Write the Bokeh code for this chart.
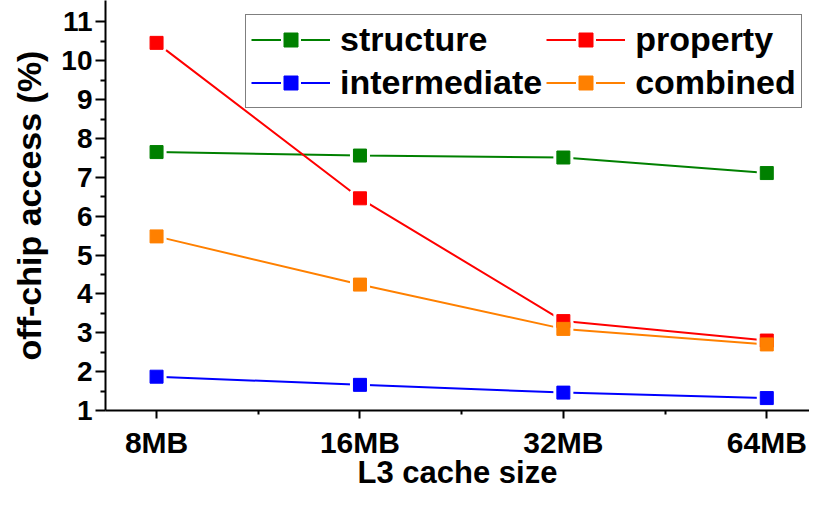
from bokeh.plotting import figure
from bokeh.models import Range1d, FixedTicker, Legend, LegendItem
from bokeh.embed import file_html
from bokeh.resources import INLINE

categories = ["8MB", "16MB", "32MB", "64MB"]
structure = [7.65, 7.56, 7.51, 7.11]
property_ = [10.46, 6.46, 3.30, 2.80]
intermediate = [1.87, 1.66, 1.46, 1.32]
combined = [5.48, 4.24, 3.10, 2.70]
y_ticks = list(range(1, 12))
y_minor = [v + 0.5 for v in range(1, 11)]

series = [
    ("structure", structure, "#008000"),
    ("property", property_, "#FF0000"),
    ("intermediate", intermediate, "#0000FF"),
    ("combined", combined, "#FF8000"),
]

FONT = "Liberation Sans"
xs = list(range(len(categories)))

p = figure(width=809, height=492, output_backend="svg", toolbar_location=None,
           x_range=Range1d(-0.251, 3.21), y_range=Range1d(1, 11.55),
           min_border_left=105, min_border_right=0, min_border_top=0, min_border_bottom=60)
p.outline_line_color = None
p.grid.visible = False
p.background_fill_color = "white"

line_r, halo_r, mark_r = {}, {}, {}
for name, vals, color in series:
    line_r[name] = p.line(xs, vals, line_color=color, line_width=2)
for name, vals, color in series:
    halo_r[name] = p.scatter(xs, vals, marker="square", size=14, fill_color="white",
                             line_color="white", line_width=6)
for name, vals, color in series:
    mark_r[name] = p.scatter(xs, vals, marker="square", size=13, fill_color=color,
                             line_color=color, line_width=1)
items = [LegendItem(label=name, renderers=[line_r[name], halo_r[name], mark_r[name]])
         for name, _, _ in series]

# axes
xa = p.xaxis[0]
xa.ticker = FixedTicker(ticks=xs, minor_ticks=[0.5, 1.5, 2.5])
xa.major_label_overrides = {i: c for i, c in enumerate(categories)}
xa.axis_label = "L3 cache size"
xa.major_label_text_font_size = "30px"
xa.axis_label_text_font_size = "31px"
xa.major_label_standoff = 7
xa.axis_label_standoff = -7
xa.major_tick_out = 8
xa.minor_tick_out = 4

ya = p.yaxis[0]
ya.ticker = FixedTicker(ticks=y_ticks, minor_ticks=y_minor)
ya.axis_label = "off-chip access (%)"
ya.major_label_text_font_size = "28px"
ya.axis_label_text_font_size = "34px"
ya.major_label_standoff = 3
ya.axis_label_standoff = 10
ya.major_tick_out = 10
ya.minor_tick_out = 5

for ax in (xa, ya):
    ax.axis_line_width = 2
    ax.axis_line_color = "black"
    ax.major_tick_line_width = 2
    ax.minor_tick_line_width = 2
    ax.major_tick_in = 0
    ax.minor_tick_in = 0
    ax.major_label_text_font = FONT
    ax.major_label_text_font_style = "bold"
    ax.major_label_text_color = "black"
    ax.axis_label_text_font = FONT
    ax.axis_label_text_font_style = "bold"
    ax.axis_label_text_color = "black"

legend = Legend(items=items, location=(140, 302), orientation="horizontal", ncols=2)
legend.label_text_font = FONT
legend.label_text_font_style = "bold"
legend.label_text_font_size = "34px"
legend.label_text_color = "black"
legend.glyph_width = 79
legend.glyph_height = 35
legend.label_standoff = 10
legend.spacing = 4
legend.padding = 5
legend.margin = 0
legend.border_line_color = "black"
legend.border_line_width = 1
legend.background_fill_color = "white"
legend.background_fill_alpha = 1
p.add_layout(legend, "center")

open("out.html", "w").write(file_html(p, INLINE))
